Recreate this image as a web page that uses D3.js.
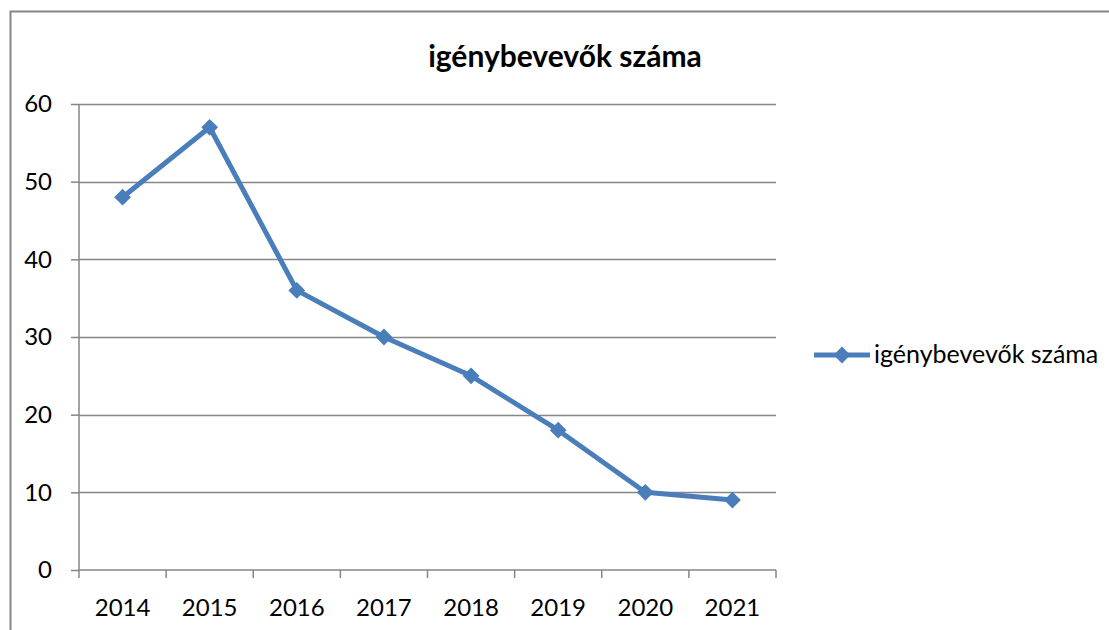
<!DOCTYPE html>
<html>
<head>
<meta charset="utf-8">
<script src="https://cdn.jsdelivr.net/npm/d3@7"></script>
<style>
	body { margin: 0; background: #fff; }
	svg text { font-family: Lato, "Open Sans", sans-serif; }
</style>
</head>
<body>
<svg id="chart" width="1109" height="630"></svg>
<script>
var years = ["2014","2015","2016","2017","2018","2019","2020","2021"];
var values = [48, 57, 36, 30, 25, 18, 10, 9];
var yTicks = [0, 10, 20, 30, 40, 50, 60];
var seriesName = "igénybevevők száma";
var titleText = "igénybevevők száma";

var svg = d3.select("#chart");
var blue = "#4A7EBB";
var grey = "#868686";

// chart border (runs off the right and bottom edges)
svg.append("rect")
	.attr("x",10.5).attr("y",11.5)
	.attr("width",1120).attr("height",640)
	.attr("fill","#fff")
	.attr("stroke",grey)
	.attr("stroke-width",2);

var plotLeft = 79, plotRight = 776, plotTop = 104, plotBottom = 570;

var x = d3.scaleBand().domain(years).range([plotLeft,plotRight]);
var y = d3.scaleLinear().domain([0,60]).range([plotBottom,plotTop]);

// gridlines
svg.append("g").selectAll("line").data(yTicks.filter(function(d){ return d>0; })).enter().append("line")
	.attr("x1",plotLeft).attr("x2",plotRight)
	.attr("y1",function(d){ return Math.round(y(d))+0.5; })
	.attr("y2",function(d){ return Math.round(y(d))+0.5; })
	.attr("stroke",grey).attr("stroke-width",1.5);

// y axis
var yAxis = svg.append("g")
	.attr("transform","translate("+plotLeft+",0)")
	.call(d3.axisLeft(y).tickValues(yTicks).tickSize(8).tickPadding(19));
yAxis.selectAll("path,line").attr("stroke",grey).attr("stroke-width",1.5);
yAxis.select("path").attr("d","M0,"+plotTop+"V"+plotBottom);
yAxis.selectAll("text").attr("font-size","24px").attr("fill","#000");

// x axis with ticks between categories
var xAxis = svg.append("g").attr("transform","translate(0,"+plotBottom+")");
xAxis.append("line").attr("x1",plotLeft).attr("x2",plotRight).attr("stroke",grey).attr("stroke-width",1.5);
xAxis.selectAll("line.tick").data(years.concat(["end"])).enter().append("line")
	.classed("tick",1)
	.attr("x1",function(d,i){ return plotLeft + i*x.bandwidth(); })
	.attr("x2",function(d,i){ return plotLeft + i*x.bandwidth(); })
	.attr("y1",0).attr("y2",8)
	.attr("stroke",grey).attr("stroke-width",1.5);
xAxis.selectAll("text").data(years).enter().append("text")
	.text(function(d){ return d; })
	.attr("x",function(d){ return x(d)+x.bandwidth()/2; })
	.attr("y",46)
	.attr("text-anchor","middle")
	.attr("font-size","24px")
	.attr("fill","#000");

// series line
var line = d3.line()
	.x(function(d,i){ return x(years[i])+x.bandwidth()/2; })
	.y(function(d){ return y(d); });

svg.append("path").datum(values)
	.attr("d",line)
	.attr("fill","none")
	.attr("stroke",blue)
	.attr("stroke-width",5)
	.attr("stroke-linejoin","round");

var diamond = d3.symbol().type(d3.symbolDiamond2).size(180);
svg.append("g").selectAll("path").data(values).enter().append("path")
	.attr("d",diamond)
	.attr("transform",function(d,i){ return "translate("+(x(years[i])+x.bandwidth()/2)+","+y(d)+")"; })
	.attr("fill",blue);

// title
svg.append("text")
	.text(titleText)
	.attr("x",565).attr("y",67)
	.attr("text-anchor","middle")
	.attr("font-size","30px")
	.attr("font-weight","bold")
	.attr("fill","#000");

// legend
var legend = svg.append("g").attr("transform","translate(814,355)");
legend.append("line").attr("x1",0).attr("x2",56).attr("stroke",blue).attr("stroke-width",5);
legend.append("path").attr("d",diamond).attr("transform","translate(28,0)").attr("fill",blue);
legend.append("text").text(seriesName)
	.attr("x",60).attr("y",8)
	.attr("font-size","25px")
	.attr("fill","#000");
</script>
</body>
</html>
